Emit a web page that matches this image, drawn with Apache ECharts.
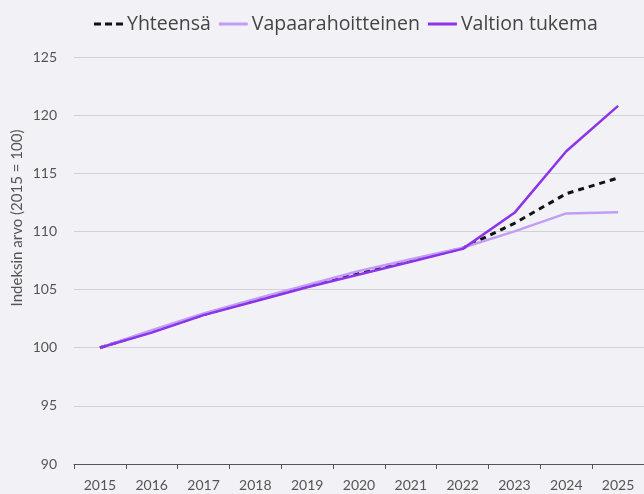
<!DOCTYPE html>
<html>
<head>
<meta charset="utf-8">
<script src="https://cdn.jsdelivr.net/npm/echarts@6/dist/echarts.min.js"></script>
<style>
  html, body { margin: 0; padding: 0; background: #f2f1f6; }
  #chart { width: 644px; height: 494px; }
</style>
</head>
<body>
<div id="chart"></div>
<script>
    // vuodet ja indeksit (2015 = 100)
    var years = ['2015', '2016', '2017', '2018', '2019', '2020', '2021', '2022', '2023', '2024', '2025'];
    var yhteensa = [100, 101.4, 102.85, 104.1, 105.3, 106.45, 107.5, 108.55, 110.7, 113.25, 114.6];
    var vapaarahoitteinen = [100, 101.5, 102.95, 104.2, 105.4, 106.6, 107.6, 108.6, 110.0, 111.55, 111.65];
    var valtionTukema = [100, 101.3, 102.8, 104.0, 105.2, 106.3, 107.4, 108.5, 111.6, 116.9, 120.8];
    var yTicks = [90, 95, 100, 105, 110, 115, 120, 125];

    var font = 'Lato, "DejaVu Sans", sans-serif';
    var wideFont = '"Open Sans", Lato, sans-serif';
    var solidIcon = 'path://M0,0h29v3h-29z';
    var dashIcon = 'path://M0,0h7v3h-7z M11,0h7v3h-7z M22,0h7v3h-7z';

    var chart = echarts.init(document.getElementById('chart'));

    chart.setOption({
        backgroundColor: '#f2f1f6',
        animation: false,
        legend: {
            top: 9,
            left: 89,
            itemWidth: 29,
            itemHeight: 14,
            itemGap: 8,
            textStyle: { fontFamily: wideFont, fontSize: 19.5, color: '#444', padding: [0, 0, 0, -1] },
            data: [
                { name: 'Yhteensä', icon: dashIcon },
                { name: 'Vapaarahoitteinen', icon: solidIcon },
                { name: 'Valtion tukema', icon: solidIcon }
            ]
        },
        grid: {
            left: 74,
            right: -2,
            top: 57,
            bottom: 30
        },
        graphic: [{
            type: 'text',
            x: 17,
            y: 218,
            rotation: Math.PI / 2,
            style: {
                text: 'Indeksin arvo (2015 = 100)',
                fontFamily: font,
                fontSize: 15,
                fill: '#555',
                align: 'center',
                verticalAlign: 'middle'
            }
        }],
        xAxis: {
            type: 'category',
            data: years,
            boundaryGap: true,
            axisLine: { show: true, onZero: false, lineStyle: { color: '#555', width: 1 } },
            axisTick: { show: true, length: 5, lineStyle: { color: '#555' } },
            axisLabel: { fontFamily: font, fontSize: 14, color: '#555', margin: 14 }
        },
        yAxis: {
            type: 'value',
            min: yTicks[0],
            max: yTicks[yTicks.length - 1],
            interval: 5,
            axisLine: { show: false },
            axisTick: { show: false },
            splitLine: { lineStyle: { color: '#d2d1d6', width: 1 } },
            axisLabel: { fontFamily: font, fontSize: 14, color: '#555', margin: 17 }
        },
        series: [
            {
                name: 'Yhteensä',
                type: 'line',
                data: yhteensa,
                symbol: 'none',
                color: '#111',
                lineStyle: { color: '#111', width: 3, type: [6, 5] }
            },
            {
                name: 'Vapaarahoitteinen',
                type: 'line',
                data: vapaarahoitteinen,
                symbol: 'none',
                color: '#c19ef5',
                lineStyle: { color: '#c19ef5', width: 2.5 }
            },
            {
                name: 'Valtion tukema',
                type: 'line',
                data: valtionTukema,
                symbol: 'none',
                color: '#8d33ea',
                lineStyle: { color: '#8d33ea', width: 2.5 }
            }
        ]
    });
</script>
</body>
</html>
